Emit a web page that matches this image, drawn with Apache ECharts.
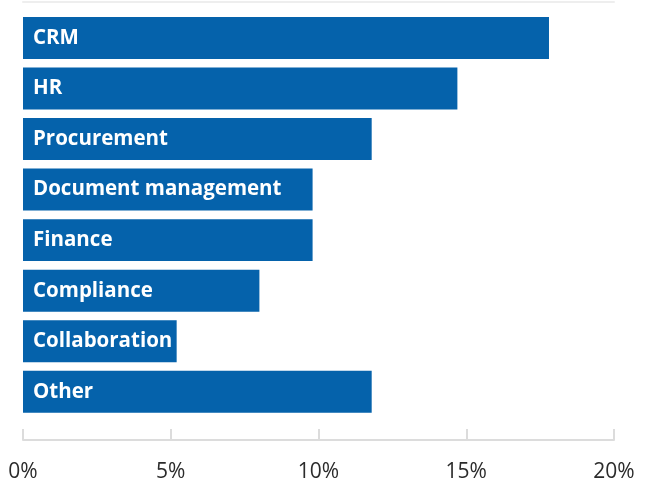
<!DOCTYPE html>
<html>
<head>
<meta charset="utf-8">
<script src="https://cdn.jsdelivr.net/npm/echarts@6/dist/echarts.min.js"></script>
<style>
  html, body { margin: 0; padding: 0; background: #fff; }
  #chart { width: 654px; height: 483px; }
</style>
</head>
<body>
<div id="chart"></div>
<script>
// categories top to bottom
const categories = ["CRM", "HR", "Procurement", "Document management", "Finance", "Compliance", "Collaboration", "Other"];
const shares = [17.8, 14.7, 11.8, 9.8, 9.8, 8.0, 5.2, 11.8];
const tickValues = [0, 5, 10, 15, 20];

const myChart = echarts.init(document.getElementById("chart"));

const option = {
  animation: false,
  grid: {
    left: 23,
    right: 40,
    top: 12.7,
    bottom: 66,
  },
  xAxis: [
    {
      type: "value",
      position: "bottom",
      min: tickValues[0],
      max: tickValues[tickValues.length - 1],
      interval: 5,
      offset: 23,
      axisLine: { show: true, lineStyle: { color: "#dcdcdc", width: 2 } },
      axisTick: { show: true, inside: true, length: 11, lineStyle: { color: "#dcdcdc", width: 2 } },
      axisLabel: {
        color: "#2b2b2b",
        fontFamily: "Open Sans",
        fontSize: 21,
        margin: 22,
        formatter: (v) => v + "%",
      },
      splitLine: { show: false },
    },
    {
      // faint rule above the chart
      type: "value",
      position: "top",
      min: 0,
      max: 20,
      offset: 11,
      axisLine: { show: true, lineStyle: { color: "#eeeeee", width: 2 } },
      axisTick: { show: false },
      axisLabel: { show: false },
      splitLine: { show: false },
    },
  ],
  yAxis: {
    type: "category",
    data: categories,
    inverse: true,
    axisLine: { show: false },
    axisTick: { show: false },
    axisLabel: { show: false },
  },
  series: [
    {
      type: "bar",
      data: shares,
      barCategoryGap: "17%",
      itemStyle: { color: "#0562ab" },
      label: {
        show: true,
        position: "insideLeft",
        distance: 10,
        color: "#fff",
        fontFamily: "Open Sans",
        fontWeight: "bold",
        fontSize: 20.5,
        formatter: (p) => p.name,
      },
    },
  ],
};

myChart.setOption(option);
</script>
</body>
</html>
